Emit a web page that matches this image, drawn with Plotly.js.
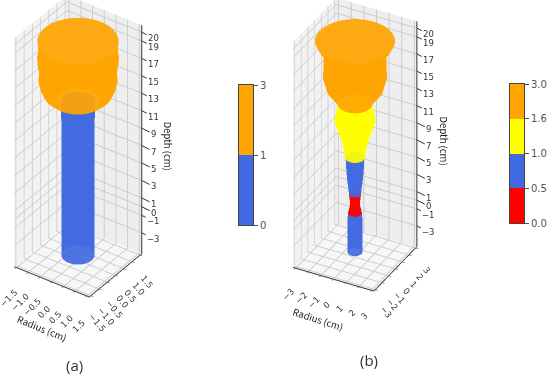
<!DOCTYPE html>
<html><head><meta charset="utf-8">
<script src="https://cdn.plot.ly/plotly-3.0.1.min.js"></script>
<style>html,body{margin:0;padding:0;background:#fff}#c{width:550px;height:378px}</style></head>
<body><div id="c"></div>
<script>
// Radius profiles: depth (cm), radius (cm), per colour segment
const blue='#4169E1', orange='#FFA500', yellow='#FFFF00', red='#FF0000';
const aBlueDepth=[-4.8,0,5,10,12.8];
const aBlueRadius=[0.58,0.58,0.58,0.58,0.6];
const aOrangeDepth=[12.8,13.2,13.7,14.5,15.2,16.3,17,17.8,18.5,19,19.7];
const aOrangeRadius=[0.75,1.0,1.2,1.33,1.38,1.36,1.41,1.43,1.38,1.4,1.42];
const bBlueLowDepth=[-4.8,-2,-0.3];
const bBlueLowRadius=[0.53,0.53,0.5];
const bRedDepth=[-0.3,0.8,1.9];
const bRedRadius=[0.48,0.33,0.42];
const bBlueHighDepth=[1.9,2.8,3.6,5,5.9,6.2];
const bBlueHighRadius=[0.42,0.48,0.55,0.62,0.65,0.65];
const bYellowDepth=[6.2,7,8.2,9.4,10.5,11.5,12.4];
const bYellowRadius=[0.72,0.75,0.95,1.2,1.45,1.3,1.1];
const bOrangeDepth=[12.4,13.2,14,15.5,17,18.4,19,19.7];
const bOrangeRadius=[1.2,1.5,1.95,2.24,2.2,2.2,2.55,2.8];
const zTicks=[-3,-1,0,1,3,5,7,9,11,13,15,17,19,20];
const aRadialTicks=[-1.5,-1,-0.5,0,0.5,1,1.5];
const bRadialTicks=[-3,-2,-1,0,1,2,3];
const cbALabels=['0','1','3'], cbAColors=[blue,orange];
const cbBLabels=['0.0','0.5','1.0','1.6','3.0'], cbBColors=[red,blue,yellow,orange];
const zRange=[-5.4,20.8];
const angleCount=48;

function tube(depth,radius,color,scene){
  const x=[],y=[],z=[];
  depth.forEach((d,i)=>{
    const rx=[],ry=[],rz=[];
    for(let k=0;k<=angleCount;k++){
      const t=2*Math.PI*k/angleCount;
      rx.push(radius[i]*Math.cos(t)); ry.push(radius[i]*Math.sin(t)); rz.push(d);
    }
    x.push(rx);y.push(ry);z.push(rz);
  });
  return {type:'surface',x,y,z,scene,showscale:false,hoverinfo:'skip',
    colorscale:[[0,color],[1,color]],opacity:0.92,
    lighting:{ambient:1,diffuse:0,specular:0,roughness:1,fresnel:0},
    contours:{x:{highlight:false},y:{highlight:false},z:{highlight:false}}};
}
function zEdge(rng,scene){
  return {type:'scatter3d',mode:'lines',x:[rng[1],rng[1]],y:[rng[1],rng[1]],z:zRange,scene,
    line:{color:'#333',width:2},hoverinfo:'skip',showlegend:false};
}
function ax(range,vals,bg){
  return {range,tickmode:'array',tickvals:vals,showticklabels:false,title:{text:''},showbackground:true,backgroundcolor:bg,
    gridcolor:'#cbcbcb',gridwidth:2,showline:true,linecolor:'#333',linewidth:2,zeroline:false,
    showspikes:false,ticks:'outside',ticklen:3,tickcolor:'#333'};
}
function eye(phi,e,d){
  const p=phi*Math.PI/180,q=e*Math.PI/180;
  return {x:d*Math.cos(q)*Math.sin(p),y:-d*Math.cos(q)*Math.cos(p),z:d*Math.sin(q)};
}
const tickF={family:'DejaVu Sans',size:8.5,color:'#333'};
const titleF={family:'Noto Sans CJK SC',size:9.5,color:'#222'};
const fmt=(v,fix)=>(fix?v.toFixed(1):String(v)).replace('-','\u2212');
function notes(rng,vals,fix,o){
  const a=[],z0=zRange[0];
  const base={showarrow:false};
  vals.forEach(v=>{
    a.push({...base,x:v,y:rng[0],z:z0,xshift:o.xs[0],yshift:o.xs[1],text:fmt(v,fix),textangle:-45,font:tickF});
    a.push({...base,x:rng[1],y:v,z:z0,xshift:o.ys[0],yshift:o.ys[1],text:fmt(v,fix),textangle:50,font:tickF});
  });
  zTicks.forEach(v=>a.push({x:rng[1],y:rng[1],z:v,showarrow:true,arrowhead:0,arrowwidth:1,arrowcolor:'#333',ax:12,ay:6,standoff:0,text:fmt(v,false),font:tickF}));
  a.push({...base,x:0,y:rng[0],z:z0,xshift:o.ts[0],yshift:o.ts[1],text:'Radius (cm)',textangle:o.ta,font:titleF});
  a.push({...base,x:rng[1],y:rng[1],z:(zRange[0]+zRange[1])/2,xshift:o.ds[0],yshift:o.ds[1],text:'Depth (cm)',textangle:90,font:titleF});
  return a;
}
function scene(domainX,domainY,rng,vals,fix,phi,e,d,k,zr,shift,o){
  return {domain:{x:domainX,y:domainY},dragmode:false,
    xaxis:ax(rng,vals,'#f2f2f2'),yaxis:ax(rng,vals,'#eeeeee'),zaxis:{...ax(zRange,zTicks,'#f7f7f7'),showline:false,ticks:''},
    aspectmode:'manual',aspectratio:{x:k,y:k,z:zr*k},annotations:notes(rng,vals,fix,o),
    camera:{eye:eye(phi,e,d),center:{x:0,y:0,z:shift},up:{x:0,y:0,z:1},projection:{type:'orthographic'}}};
}
const rngA=[-1.6,1.6],rngB=[-3.2,3.2];
const traces=[
  tube(aBlueDepth,aBlueRadius,blue,'scene'),
  tube(aOrangeDepth,aOrangeRadius,orange,'scene'),
  tube(bBlueLowDepth,bBlueLowRadius,blue,'scene2'),
  tube(bRedDepth,bRedRadius,red,'scene2'),
  tube(bBlueHighDepth,bBlueHighRadius,blue,'scene2'),
  tube(bYellowDepth,bYellowRadius,yellow,'scene2'),
  tube(bOrangeDepth,bOrangeRadius,orange,'scene2'),
  zEdge(rngA,'scene'),zEdge(rngB,'scene2')
];
cbAColors.forEach(c=>traces.push({type:'bar',x:[0],y:[1],marker:{color:c,line:{width:0}},xaxis:'x',yaxis:'y',hoverinfo:'skip',width:1}));
cbBColors.forEach(c=>traces.push({type:'bar',x:[0],y:[1],marker:{color:c,line:{width:0}},xaxis:'x2',yaxis:'y2',hoverinfo:'skip',width:1}));
function cbX(dom,anchor){return {domain:dom,range:[-0.5,0.5],showticklabels:false,ticks:'',showgrid:false,zeroline:false,showline:true,mirror:true,linecolor:'#444',linewidth:1,anchor,fixedrange:true};}
function cbY(dom,n,labels,anchor){return {domain:dom,range:[0,n],tickmode:'array',tickvals:labels.map((_,i)=>i),ticktext:labels,side:'right',ticks:'outside',ticklen:4,tickcolor:'#555',
  tickfont:{family:'DejaVu Sans',size:10,color:'#555'},showgrid:false,zeroline:false,showline:true,mirror:true,linecolor:'#444',linewidth:1,anchor,fixedrange:true};}
const W=550,H=378;
const layout={width:W,height:H,margin:{l:0,r:0,t:0,b:0},paper_bgcolor:'#fff',showlegend:false,barmode:'stack',bargap:0,
  scene:scene([0,156/W],[1-300/H,1],rngA,aRadialTicks,true,35,35,5.5,0.61,3.06,-0.033,{xs:[-8,-30],ys:[7,-27],ts:[-10,-46],ds:[26,-7],ta:22}),
  scene2:scene([270/W,440/W],[1-300/H,1],rngB,bRadialTicks,false,28,33,5.5,0.61,2.95,-0.045,{xs:[-7,-26],ys:[11,-22],ts:[-16,-40],ds:[27,-7.5],ta:18}),
  xaxis:cbX([239/W,253/W],'y'),yaxis:cbY([1-225/H,1-85/H],2,cbALabels,'x'),
  xaxis2:cbX([510/W,524/W],'y2'),yaxis2:cbY([1-223/H,1-84/H],4,cbBLabels,'x2'),
  annotations:[
   {text:'(a)',xref:'paper',yref:'paper',x:74/W,y:1-365/H,xanchor:'center',yanchor:'middle',showarrow:false,font:{family:'Open Sans',size:15,color:'#333'}},
   {text:'(b)',xref:'paper',yref:'paper',x:369/W,y:1-360/H,xanchor:'center',yanchor:'middle',showarrow:false,font:{family:'Open Sans',size:15,color:'#333'}}
  ]};
Plotly.newPlot('c',traces,layout,{displayModeBar:false});
</script></body></html>
